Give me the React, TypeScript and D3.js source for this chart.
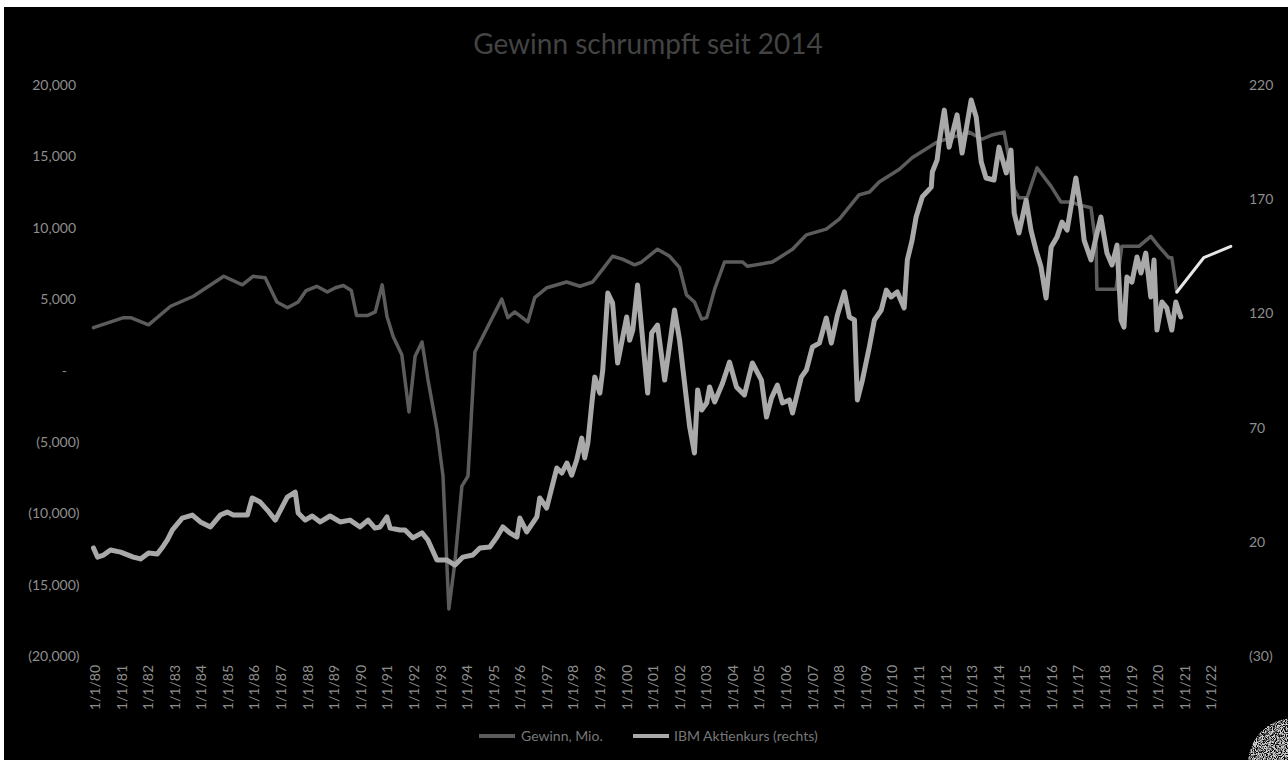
import React from "react";
import * as d3 from "d3";

// Jahresüberschuss (Mio. USD, rollierend) – Stützstellen als Dezimaljahr
const gewinnJahr = [
  1980.0, 1981.13, 1981.4, 1982.07, 1982.9, 1983.76, 1984.0, 1984.9, 1985.6, 1986.0,
  1986.46, 1986.9, 1987.3, 1987.7, 1988.0, 1988.4, 1988.8, 1989.1, 1989.4, 1989.7,
  1989.9, 1990.3, 1990.6, 1990.86, 1991.04, 1991.27, 1991.6, 1991.87, 1992.1, 1992.36,
  1992.58, 1992.92, 1993.15, 1993.37, 1993.6, 1993.86, 1994.09, 1994.35, 1995.36, 1995.59,
  1995.85, 1996.34, 1996.6, 1997.06, 1997.8, 1998.3, 1998.78, 1999.16, 1999.53, 1999.9,
  2000.36, 2000.62, 2001.22, 2001.68, 2002.05, 2002.31, 2002.61, 2002.88, 2003.07, 2003.37,
  2003.74, 2004.42, 2004.6, 2005.54, 2005.8, 2006.3, 2006.56, 2006.82, 2007.57, 2008.06,
  2008.8, 2009.2, 2009.56, 2010.32, 2010.8, 2011.74, 2012.94, 2013.43, 2013.81, 2014.26,
  2014.37, 2014.64, 2014.82, 2015.12, 2015.5, 2016.03, 2016.4, 2016.81, 2017.08, 2017.53,
  2017.72, 2017.75, 2018.47, 2018.69, 2019.33, 2019.78, 2020.08, 2020.46, 2020.57, 2020.76,
];
const gewinnMio = [
  3000, 3700, 3700, 3200, 4500, 5200, 5500, 6600, 6000, 6600,
  6500, 4800, 4400, 4800, 5600, 5900, 5500, 5800, 5950, 5600,
  3850, 3850, 4100, 6000, 3800, 2400, 1100, -2900, 1000, 2000,
  -600, -4100, -7400, -16700, -13400, -8100, -7400, 1300, 5000, 3700,
  4100, 3400, 5100, 5800, 6200, 5900, 6200, 7100, 8000, 7800,
  7400, 7600, 8500, 8000, 7200, 5300, 4800, 3600, 3700, 5700,
  7600, 7600, 7300, 7600, 7900, 8500, 9000, 9500, 9900, 10600,
  12300, 12500, 13200, 14100, 14900, 16000, 16700, 16200, 16500, 16700,
  15600, 12700, 12100, 12100, 14200, 12900, 11800, 11800, 11600, 11400,
  8700, 5700, 5700, 8700, 8700, 9400, 8700, 7900, 7900, 5500,
];

// Fortschreibung des Gewinns
const prognoseJahr = [2020.76, 2021.77, 2022.79];
const prognoseMio = [5500, 7900, 8700];

// IBM-Aktienkurs (USD)
const kursJahr = [
  1980.0, 1980.15, 1980.38, 1980.64, 1981.02, 1981.5, 1981.77, 1982.07, 1982.4, 1982.63,
  1982.78, 1982.97, 1983.34, 1983.72, 1984.02, 1984.4, 1984.77, 1985.03, 1985.26, 1985.79,
  1985.97, 1986.27, 1986.54, 1986.84, 1987.29, 1987.59, 1987.7, 1987.96, 1988.23, 1988.53,
  1988.9, 1989.28, 1989.65, 1990.03, 1990.33, 1990.59, 1990.78, 1991.04, 1991.16, 1991.53,
  1991.72, 1992.02, 1992.36, 1992.58, 1992.92, 1993.3, 1993.6, 1993.9, 1994.27, 1994.54,
  1994.91, 1995.18, 1995.4, 1995.66, 1995.93, 1996.04, 1996.3, 1996.68, 1996.79, 1997.05,
  1997.43, 1997.62, 1997.81, 1997.99, 1998.18, 1998.37, 1998.48, 1998.6, 1998.75, 1998.86,
  1999.05, 1999.16, 1999.35, 1999.53, 1999.72, 2000.06, 2000.17, 2000.29, 2000.47, 2000.85,
  2001.0, 2001.22, 2001.49, 2001.86, 2002.05, 2002.43, 2002.61, 2002.73, 2002.88, 2003.07,
  2003.18, 2003.37, 2003.67, 2003.93, 2004.19, 2004.49, 2004.79, 2005.13, 2005.32, 2005.51,
  2005.73, 2005.92, 2006.18, 2006.3, 2006.63, 2006.82, 2007.05, 2007.31, 2007.57, 2007.76,
  2007.99, 2008.25, 2008.44, 2008.63, 2008.74, 2008.93, 2009.19, 2009.38, 2009.64, 2009.83,
  2010.01, 2010.24, 2010.5, 2010.62, 2010.8, 2010.95, 2011.18, 2011.52, 2011.56, 2011.74,
  2011.82, 2012.01, 2012.19, 2012.49, 2012.68, 2013.02, 2013.21, 2013.4, 2013.58, 2013.88,
  2014.07, 2014.34, 2014.52, 2014.64, 2014.82, 2015.09, 2015.27, 2015.46, 2015.65, 2015.84,
  2016.03, 2016.25, 2016.44, 2016.63, 2016.96, 2017.15, 2017.27, 2017.53, 2017.72, 2017.9,
  2018.13, 2018.32, 2018.51, 2018.66, 2018.77, 2018.88, 2019.07, 2019.26, 2019.41, 2019.59,
  2019.78, 2019.9, 2020.01, 2020.2, 2020.38, 2020.57, 2020.72, 2020.91,
];
const kursUSD = [
  17.3, 13.3, 14.2, 16.4, 15.5, 13.3, 12.5, 15.1, 14.7, 18.2,
  20.8, 25.2, 30.4, 31.7, 28.7, 26.5, 31.7, 33.0, 31.7, 31.7,
  39.2, 37.4, 33.9, 29.5, 39.6, 41.8, 32.6, 29.5, 31.3, 28.7,
  31.3, 28.7, 29.5, 26.5, 29.5, 26.0, 26.5, 30.9, 26.0, 25.2,
  25.2, 21.7, 23.9, 20.8, 12.0, 12.0, 9.8, 13.3, 14.2, 17.3,
  17.7, 22.1, 26.5, 23.9, 22.1, 30.4, 24.3, 30.9, 39.2, 34.8,
  52.3, 50.1, 54.5, 49.2, 55.8, 65.4, 56.7, 63.3, 80.8, 92.1,
  85.1, 95.2, 128.9, 124.5, 98.3, 118.4, 108.3, 112.7, 132.4, 85.1,
  111.4, 114.9, 90.8, 121.5, 108.3, 70.3, 58.9, 86.5, 77.7, 80.8,
  87.8, 81.2, 89.5, 98.7, 87.8, 84.3, 98.3, 90.8, 74.6, 83.0,
  88.6, 80.8, 82.1, 76.4, 92.1, 95.2, 105.3, 107.0, 118.0, 107.0,
  119.3, 129.4, 118.4, 117.1, 82.1, 90.8, 105.3, 117.1, 121.5, 130.2,
  127.2, 129.4, 122.4, 143.4, 152.1, 162.2, 171.0, 175.3, 181.9, 187.2,
  195.0, 209.0, 192.8, 206.9, 190.2, 213.4, 206.0, 186.3, 179.3, 178.4,
  192.8, 181.5, 191.5, 163.9, 155.2, 169.6, 156.5, 147.7, 140.3, 126.7,
  149.1, 153.4, 160.0, 156.5, 179.3, 165.3, 152.1, 143.4, 153.4, 162.2,
  146.4, 141.2, 149.9, 117.1, 114.0, 135.9, 133.7, 144.7, 137.7, 146.4,
  127.2, 143.4, 112.7, 125.0, 122.4, 112.7, 125.0, 118.4,
];

const linksTicks = [20000, 15000, 10000, 5000, 0, -5000, -10000, -15000, -20000];
const rechtsTicks = [220, 170, 120, 70, 20, -30];
const achsenJahre = d3.range(1980, 2023);

const titel = "Gewinn schrumpft seit 2014";
const legendeGewinn = "Gewinn, Mio.";
const legendeKurs = "IBM Aktienkurs (rechts)";

const W = 1288;
const H = 760;
const FONT = "Lato, 'Open Sans', sans-serif";

const farbeGewinn = "#5c5c5c";
const farbeKurs = "#a9a9a9";
const farbePrognose = "#e6e6e6";
const farbeText = "#8e8e8e";

type P = [number, number];

export default function App() {
  const x = d3.scaleLinear().domain([1980, 2023]).range([93.5, 1236.4]);
  const yL = d3.scaleLinear().domain([-20000, 20000]).range([656, 85]);
  const yR = d3.scaleLinear().domain([-30, 220]).range([656, 85]);

  const lineL = d3
    .line<P>()
    .x((d) => x(d[0]))
    .y((d) => yL(d[1]));
  const lineR = d3
    .line<P>()
    .x((d) => x(d[0]))
    .y((d) => yR(d[1]));

  const gewinn: P[] = gewinnJahr.map((j, i) => [j, gewinnMio[i]]);
  const kurs: P[] = kursJahr.map((j, i) => [j, kursUSD[i]]);
  const prognose: P[] = prognoseJahr.map((j, i) => [j, prognoseMio[i]]);

  const komma = d3.format(",");
  const fmtLinks = (v: number) => (v === 0 ? "-" : v < 0 ? `(${komma(-v)})` : komma(v));
  const fmtRechts = (v: number) => (v < 0 ? `(${-v})` : `${v}`);
  const fmtJahr = (j: number) => `1/1/${String(j % 100).padStart(2, "0")}`;

  return (
    <div
      style={{
        position: "fixed",
        left: 0,
        top: 0,
        width: W,
        height: H,
        background: "#ffffff",
        overflow: "hidden",
      }}
    >
      <svg width={W} height={H} style={{ display: "block" }} fontFamily={FONT}>
        <defs>
          <filter id="koernung" x="0" y="0" width="100%" height="100%">
            <feTurbulence type="fractalNoise" baseFrequency="1.1" numOctaves="1" seed="3" result="n" />
            <feColorMatrix
              in="n"
              type="matrix"
              values="0 0 0 0 0.65  0 0 0 0 0.65  0 0 0 0 0.65  5 0 0 0 -1.9"
              result="g"
            />
            <feComposite in="g" in2="SourceGraphic" operator="in" />
          </filter>
        </defs>
        <rect x={4} y={7} width={W - 4} height={H - 7} fill="#000000" />

        {/* Titel */}
        <text x={648} y={54} textAnchor="middle" fontSize={28} fill="#434343">
          {titel}
        </text>

        {/* linke Achse */}
        {linksTicks.map((v) => (
          <text
            key={`l${v}`}
            x={v === 0 ? 67 : v < 0 ? 79.5 : 76}
            y={yL(v) + 5}
            textAnchor="end"
            fontSize={14}
            fill={farbeText}
          >
            {fmtLinks(v)}
          </text>
        ))}

        {/* rechte Achse */}
        {rechtsTicks.map((v) => (
          <text
            key={`r${v}`}
            x={1249}
            y={yR(v) + 5}
            textAnchor="start"
            fontSize={14}
            fill={farbeText}
          >
            {fmtRechts(v)}
          </text>
        ))}

        {/* Zeitachse */}
        {achsenJahre.map((j) => {
          const cx = x(j) + 1.5;
          return (
            <text
              key={`x${j}`}
              transform={`translate(${cx + 5},665) rotate(-90)`}
              textAnchor="end"
              fontSize={14}
              fill={farbeText}
            >
              {fmtJahr(j)}
            </text>
          );
        })}

        {/* Linien */}
        <path
          d={lineL(gewinn) ?? ""}
          fill="none"
          stroke={farbeGewinn}
          strokeWidth={3.5}
          strokeLinejoin="round"
          strokeLinecap="round"
        />
        <path
          d={lineR(kurs) ?? ""}
          fill="none"
          stroke={farbeKurs}
          strokeWidth={5}
          strokeLinejoin="round"
          strokeLinecap="round"
        />
        <path
          d={lineL(prognose) ?? ""}
          fill="none"
          stroke={farbePrognose}
          strokeWidth={3}
          strokeLinejoin="round"
          strokeLinecap="round"
        />

        {/* Legende */}
        <line x1={479} x2={515} y1={736} y2={736} stroke={farbeGewinn} strokeWidth={4} />
        <text x={521} y={741} fontSize={14} fill="#777777">
          {legendeGewinn}
        </text>
        <line x1={633} x2={669} y1={736} y2={736} stroke={farbeKurs} strokeWidth={4} />
        <text x={674} y={741} fontSize={14} fill="#777777">
          {legendeKurs}
        </text>

        {/* Signet unten rechts */}
        <circle cx={1294} cy={764} r={46} fill="#ffffff" filter="url(#koernung)" />
      </svg>
    </div>
  );
}
